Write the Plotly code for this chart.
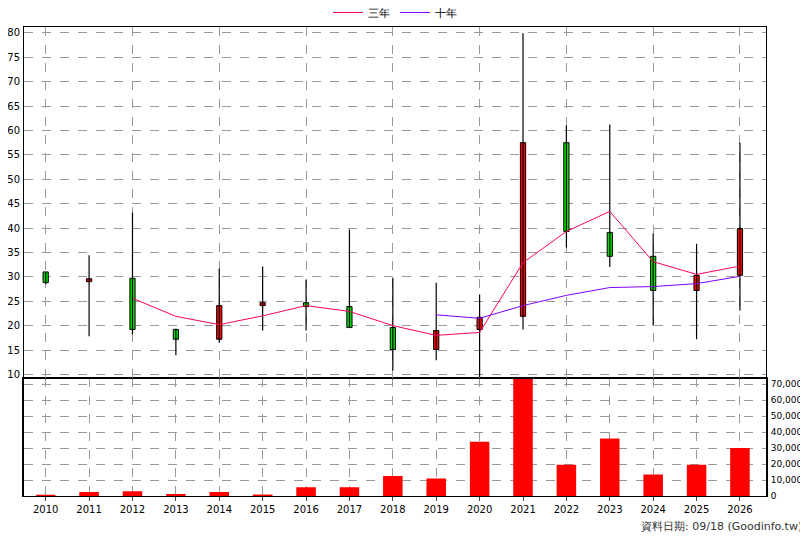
import plotly.graph_objects as go

years = list(range(2010, 2027))
open_ = [31.0, 29.0, 29.7, 19.2, 17.2, 24.1, 24.7, 23.9, 19.6, 15.1, 19.2, 21.9, 57.5, 39.1, 34.2, 27.2, 30.3]
close = [28.8, 29.6, 19.2, 17.2, 24.1, 24.7, 23.9, 19.6, 15.1, 19.0, 21.7, 57.5, 39.3, 34.2, 27.2, 30.3, 39.9]
high = [31.0, 34.4, 43.2, 19.4, 31.7, 32.1, 29.4, 39.7, 29.8, 28.8, 26.4, 79.9, 61.0, 61.2, 38.9, 36.8, 57.5]
low = [28.5, 17.8, 18.2, 13.9, 16.5, 19.0, 19.0, 19.6, 10.8, 12.9, 9.4, 19.2, 36.0, 32.0, 20.0, 17.2, 23.1]

ma3_years = list(range(2012, 2027))
ma3 = [25.6, 21.9, 20.2, 22.0, 24.1, 22.9, 20.0, 18.0, 18.6, 32.9, 39.3, 43.4, 33.1, 30.5, 32.2]
ma10_years = list(range(2019, 2027))
ma10 = [22.2, 21.5, 24.1, 26.2, 27.8, 28.0, 28.6, 30.1]

volume = [300, 2500, 3000, 1200, 2500, 1000, 5500, 5500, 12500, 11000, 34000, 73500, 19500, 36000, 13500, 19500, 30000]

# wicks as one broken line
wx, wy = [], []
for x, h, l in zip(years, high, low):
    wx += [x, x, None]
    wy += [l, h, None]

base = [min(o, c) for o, c in zip(open_, close)]
size = [max(abs(c - o), 0.5) for o, c in zip(open_, close)]
body_col = ['#ff0000' if c >= o else '#00e000' for o, c in zip(open_, close)]

fig = go.Figure()
fig.add_trace(go.Scatter(x=wx, y=wy, mode='lines', line=dict(color='black', width=1.2),
                         showlegend=False, hoverinfo='skip', xaxis='x2', yaxis='y2'))
fig.add_trace(go.Bar(x=years, y=size, base=base, width=0.12,
                     marker=dict(color=body_col, line=dict(color='black', width=1)),
                     showlegend=False, xaxis='x2', yaxis='y2'))
fig.add_trace(go.Scatter(x=ma3_years, y=ma3, mode='lines', name='三年',
                         line=dict(color='#ff0066', width=1), xaxis='x2', yaxis='y2'))
fig.add_trace(go.Scatter(x=ma10_years, y=ma10, mode='lines', name='十年',
                         line=dict(color='#8000ff', width=1), xaxis='x2', yaxis='y2'))
fig.add_trace(go.Bar(x=years, y=volume, marker=dict(color='#ff0000', line=dict(width=0)),
                     width=0.45, showlegend=False, xaxis='x', yaxis='y'))

grid = dict(showgrid=True, gridcolor='#999999', griddash='dash', gridwidth=1)
xr = [2009.5, 2026.6]
fig.update_layout(
    width=808, height=540, plot_bgcolor='white', paper_bgcolor='white',
    margin=dict(l=16, r=50, t=19, b=52, autoexpand=False),
    font=dict(family='DejaVu Sans', size=10, color='black'),
    legend=dict(orientation='h', x=0.5, xanchor='center', y=1.0, yanchor='bottom',
                font=dict(size=11), bgcolor='rgba(0,0,0,0)', itemwidth=30),
    xaxis=dict(domain=[0, 1], range=xr, tickvals=years, ticktext=[str(y) for y in years],
               ticks='outside', ticklen=4, showline=True, linecolor='black', mirror=True, **grid),
    xaxis2=dict(domain=[0, 1], range=xr, anchor='y2', matches='x', showticklabels=False,
                showline=True, linecolor='black', mirror=True, **grid),
    yaxis=dict(domain=[0, 0.252], range=[0, 74000], side='right', tickvals=list(range(0, 70001, 10000)),
               tickformat=',', ticks='', ticklabelstandoff=1, showline=True, linecolor='black', linewidth=2,
               mirror=True, tickfont=dict(size=9), **grid),
    yaxis2=dict(domain=[0.252, 1], range=[9.3, 81.2], tickvals=list(range(10, 81, 5)),
                ticks='', ticklabelstandoff=1, showline=True, linecolor='black', mirror=True,
                zeroline=False, tickfont=dict(size=10), **grid),
)
fig.add_annotation(text='資料日期: 09/18 (Goodinfo.tw)', xref='paper', yref='paper',
                   x=1.051, y=-0.066, xanchor='right', yanchor='middle', showarrow=False,
                   font=dict(size=11, color='#333333'))
fig.write_html("out.html")
